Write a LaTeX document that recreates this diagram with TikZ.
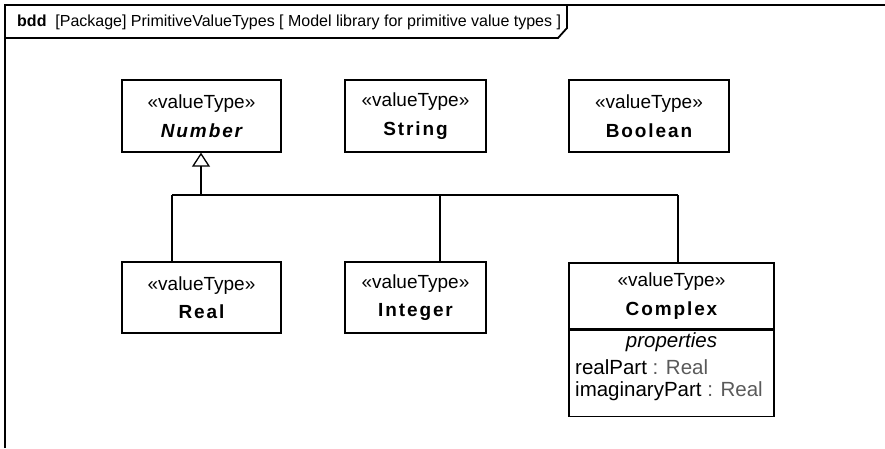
\documentclass[tikz,border=0pt]{standalone}
\usepackage{fontspec}
\setmainfont{Liberation Sans}
\newfontfamily\namefont[LetterSpace=10]{Liberation Sans}
\usetikzlibrary{arrows.meta}
\definecolor{typegrey}{RGB}{90,90,90}
\newcommand{\vtname}[1]{{\namefont\bfseries #1}}
\begin{document}
\begin{tikzpicture}[x=1pt,y=-1pt,
  frameline/.style={line width=1.8pt},
  boxline/.style={draw, line width=1.3pt},
  vtbox/.style={boxline, align=center, inner sep=0pt,
    font=\fontsize{19}{28.5}\selectfont},
  conn/.style={line width=1.3pt},
  gen/.style={conn, -{Triangle[open, length=14pt, width=18pt, line width=1.3pt]}},
  txt/.style={font=\fontsize{20.5}{22}\selectfont, inner sep=0pt},
  hdrtxt/.style={font=\fontsize{16}{19}\selectfont, inner sep=0pt}]
\useasboundingbox (0,0) rectangle (885,448);
% frame
\draw[frameline] (5,448) -- (5,5) -- (885,5);
\draw[frameline] (5,38) -- (558,38) -- (567,28) -- (567,5);
\node[hdrtxt, anchor=west] (hdr) at (17,22)
  {\textbf{bdd}\ \ [Package] PrimitiveValueTypes [ Model library for primitive value types ]};
% top row
\node[vtbox, minimum width=159pt, minimum height=72pt] (num) at (201.5,116)
  {«valueType»\\\vtname{\itshape Number}};
\node[vtbox, minimum width=141pt, minimum height=72pt] (str) at (415.5,116)
  {«valueType»\\\vtname{String}};
\node[vtbox, minimum width=160pt, minimum height=72pt] (bool) at (649,116)
  {«valueType»\\\vtname{Boolean}};
% bottom row
\node[vtbox, minimum width=159pt, minimum height=71pt] (real) at (201.5,297.5)
  {«valueType»\\\vtname{Real}};
\node[vtbox, minimum width=141pt, minimum height=71pt] (int) at (415.5,297.5)
  {«valueType»\\\vtname{Integer}};
\node[vtbox, minimum width=205pt, minimum height=66pt] (cpx) at (671.5,296)
  {«valueType»\\\vtname{Complex}};
\node[boxline, minimum width=205pt, minimum height=86pt, inner sep=0pt,
  anchor=north] (cpxp) at (cpx.south) {};
\node[txt] (props) at (671.5,342) {\textit{properties}};
\node[txt, anchor=west] (rp) at (575,367) {realPart \textcolor{typegrey}{: Real}};
\node[txt, anchor=west] (ip) at (575,391) {imaginaryPart \textcolor{typegrey}{: Real}};
% generalization tree
\coordinate (jn) at (201,195);
\coordinate (jr) at (172,195);
\coordinate (ji) at (440,195);
\coordinate (jc) at (678,195);
\draw[gen] (jn) -- (jn |- num.south);
\draw[conn] (jr) -- (jc);
\draw[conn] (jr) -- (jr |- real.north);
\draw[conn] (ji) -- (ji |- int.north);
\draw[conn] (jc) -- (jc |- cpx.north);
\end{tikzpicture}
\end{document}
